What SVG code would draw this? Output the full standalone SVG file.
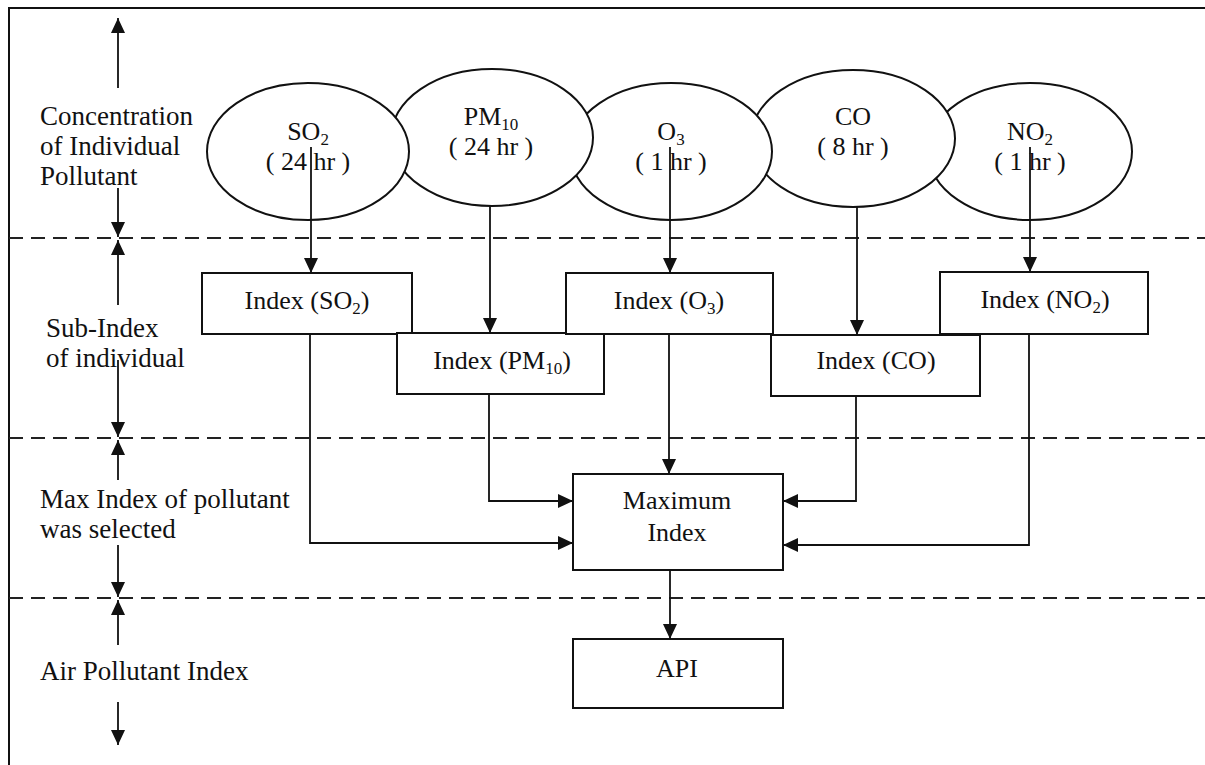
<svg xmlns="http://www.w3.org/2000/svg" width="1205" height="765" viewBox="0 0 1205 765">
<style>
text{font-family:"Liberation Serif","Times New Roman",serif;font-size:26px;fill:#111}
.lbl{font-size:27px}
.c{text-anchor:middle}
.shape{fill:#fff;stroke:#111;stroke-width:2}
.conn{fill:none;stroke:#111;stroke-width:1.8}
.dash{stroke:#222;stroke-width:2;stroke-dasharray:14 8}
</style>
<defs>
<marker id="ah" markerWidth="16" markerHeight="14" refX="15" refY="7" orient="auto" markerUnits="userSpaceOnUse">
<path d="M0,0 L15,7 L0,14 z" fill="#111"/>
</marker>
</defs>
<rect width="1205" height="765" fill="#fff"/>
<g id="frame">
<path d="M9,765 L9,8 L1205,8" fill="none" stroke="#111" stroke-width="2"/>
<line class="dash" x1="9" y1="238" x2="1205" y2="238"/>
<line class="dash" x1="9" y1="438" x2="1205" y2="438"/>
<line class="dash" x1="9" y1="598" x2="1205" y2="598"/>
</g>
<g id="labels">
<text class="lbl" x="40" y="125">Concentration</text>
<text class="lbl" x="40" y="155">of Individual</text>
<text class="lbl" x="40" y="185">Pollutant</text>
<text class="lbl" x="46" y="337">Sub-Index</text>
<text class="lbl" x="46" y="367">of individual</text>
<text class="lbl" x="40" y="508">Max Index of pollutant</text>
<text class="lbl" x="40" y="538">was selected</text>
<text class="lbl" x="40" y="680">Air Pollutant Index</text>
</g>
<g id="scale-arrows" class="conn">
<line x1="118" y1="88" x2="118" y2="18" marker-end="url(#ah)"/>
<line x1="118" y1="188" x2="118" y2="237" marker-end="url(#ah)"/>
<line x1="118" y1="305" x2="118" y2="240" marker-end="url(#ah)"/>
<line x1="118" y1="360" x2="118" y2="437" marker-end="url(#ah)"/>
<line x1="118" y1="480" x2="118" y2="440" marker-end="url(#ah)"/>
<line x1="118" y1="545" x2="118" y2="597" marker-end="url(#ah)"/>
<line x1="118" y1="645" x2="118" y2="600" marker-end="url(#ah)"/>
<line x1="118" y1="702" x2="118" y2="745" marker-end="url(#ah)"/>
</g>
<g id="node-no2">
<ellipse class="shape" cx="1030" cy="151.5" rx="102" ry="68.5"/>
<text class="c" x="1030" y="140">NO<tspan dy="5" font-size="17">2</tspan></text>
<text class="c" x="1030" y="170">( 1 hr )</text>
</g>
<g id="node-co">
<ellipse class="shape" cx="853" cy="138.5" rx="102" ry="68.5"/>
<text class="c" x="853" y="125">CO</text>
<text class="c" x="853" y="155">( 8 hr )</text>
</g>
<g id="node-o3">
<ellipse class="shape" cx="671" cy="151.5" rx="101" ry="68.5"/>
<text class="c" x="671" y="140">O<tspan dy="5" font-size="17">3</tspan></text>
<text class="c" x="671" y="170">( 1 hr )</text>
</g>
<g id="node-pm10">
<ellipse class="shape" cx="492" cy="137.5" rx="101" ry="68.5"/>
<text class="c" x="491" y="125">PM<tspan dy="5" font-size="17">10</tspan></text>
<text class="c" x="491" y="155">( 24 hr )</text>
</g>
<g id="node-so2">
<ellipse class="shape" cx="308" cy="151.5" rx="101" ry="68.5"/>
<text class="c" x="308" y="140">SO<tspan dy="5" font-size="17">2</tspan></text>
<text class="c" x="308" y="170">( 24 hr )</text>
</g>
<g id="idx-so2">
<rect class="shape" x="202" y="273" width="210" height="61"/>
<text class="c" x="307" y="309">Index (SO<tspan dy="5" font-size="17">2</tspan><tspan dy="-5">)</tspan></text>
</g>
<g id="idx-pm10">
<rect class="shape" x="397" y="333" width="207" height="61"/>
<text class="c" x="502" y="369">Index (PM<tspan dy="5" font-size="17">10</tspan><tspan dy="-5">)</tspan></text>
</g>
<g id="idx-o3">
<rect class="shape" x="566" y="273" width="207" height="61"/>
<text class="c" x="669" y="309">Index (O<tspan dy="5" font-size="17">3</tspan><tspan dy="-5">)</tspan></text>
</g>
<g id="idx-co">
<rect class="shape" x="771" y="335" width="209" height="61"/>
<text class="c" x="876" y="369">Index (CO)</text>
</g>
<g id="idx-no2">
<rect class="shape" x="940" y="272" width="208" height="62"/>
<text class="c" x="1045" y="308">Index (NO<tspan dy="5" font-size="17">2</tspan><tspan dy="-5">)</tspan></text>
</g>
<g id="max-index">
<rect class="shape" x="573" y="474" width="210" height="96"/>
<text class="c" x="677" y="509">Maximum</text>
<text class="c" x="677" y="541">Index</text>
</g>
<g id="api">
<rect class="shape" x="573" y="639" width="210" height="69"/>
<text class="c" x="677" y="677">API</text>
</g>
<g id="connectors" class="conn">
<line x1="311" y1="147" x2="311" y2="273" marker-end="url(#ah)"/>
<line x1="490" y1="206" x2="490" y2="333" marker-end="url(#ah)"/>
<line x1="670" y1="147" x2="670" y2="273" marker-end="url(#ah)"/>
<line x1="857" y1="207" x2="857" y2="335" marker-end="url(#ah)"/>
<line x1="1030" y1="147" x2="1030" y2="272" marker-end="url(#ah)"/>
<polyline points="310,334 310,543 573,543" marker-end="url(#ah)"/>
<polyline points="489,394 489,501 573,501" marker-end="url(#ah)"/>
<line x1="669" y1="334" x2="669" y2="474" marker-end="url(#ah)"/>
<polyline points="856,396 856,501 783,501" marker-end="url(#ah)"/>
<polyline points="1029,334 1029,545 783,545" marker-end="url(#ah)"/>
<line x1="670" y1="570" x2="670" y2="639" marker-end="url(#ah)"/>
</g>
</svg>
